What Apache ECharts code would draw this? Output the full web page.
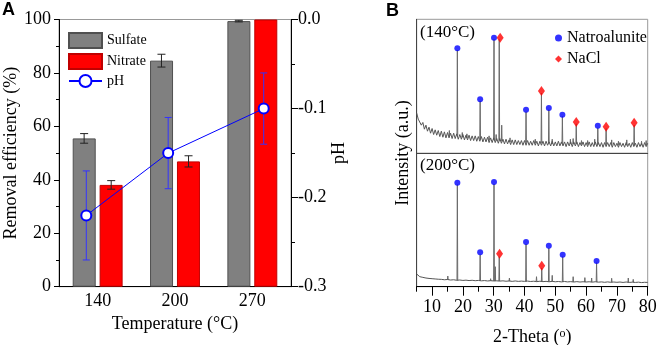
<!DOCTYPE html>
<html>
<head>
<meta charset="utf-8">
<script src="https://cdn.jsdelivr.net/npm/echarts@6/dist/echarts.min.js"></script>
<style>
html,body{margin:0;padding:0;background:#fff}
#chart{width:657px;height:345px}
</style>
</head>
<body>
<div id="chart"></div>
<script>
// panel A
var temps = ['140', '200', '270']
var sulfate = [55.5, 84.6, 99.4]
var sulfateErr = [1.8, 2.4, 0.3]
var nitrate = [38.1, 46.9, 100]
var nitrateErr = [1.6, 2.1, 0]
var phTemp = [140, 200, 270]
var ph = [-0.22, -0.15, -0.10]
var phErr = [0.05, 0.04, 0.04]
var effTicks = [0, 20, 40, 60, 80, 100]
var phTicks = [-0.3, -0.2, -0.1, 0.0]

// panel B, scan from 5 deg in 0.5 deg steps (140 C) and 1 deg steps (200 C)
var thetaMajor = [10, 20, 30, 40, 50, 60, 70, 80]
var thetaMinor = [5, 15, 25, 35, 45, 55, 65, 75]
var base140 = [30,25.5,25.5,21,23,18,21,16.5,19.5,15,18.5,14,17.5,13.5,17,12.5,16.5,12,16,11.5,
  15.5,11.5,15,11,15,11,14.5,10.5,14,10.5,14,10,13.5,10,13.5,9.5,13,9.5,13,9,
  12.5,9,12.5,8.5,12,8.5,12,8,11.5,8,11.5,8,11,7.5,11,7.5,10.5,7,10.5,7,
  10,6.5,10,6.5,10,6.5,9.5,6.5,9.5,6,9.5,6,9.5,6,9,6,9.5,6,9,5.5,
  9,6,9,5.5,9,6,8.5,5.5,9,5.5,8.5,5.5,9,5.5,8.5,5.5,8.5,5,8.5,5.5,
  8.5,5,8.5,5.5,8.5,5,8,5.5,8.5,5,8,5,8.5,5,8,5,8.5,5,8,5,
  8,4.5,8,5,8,5,8,4.5,8,5,7.5,4.5,8,5,7.5,4.5,8,5,7.5,4.5,
  8,5,7.5,4.5,8,5,7.5,4.5,8,5,7.5]
var base200 = [9.5,7.5,7,6.5,6.2,6,5.8,5.6,5.5,5.2,5.4,5,5.2,4.8,5,4.7,4.9,4.6,4.8,4.5,
  4.7,4.4,4.6,4.3,4.5,4.3,4.4,4.2,4.4,4.1,4.3,4,4.3,4,4.2,4,4.2,3.9,4.1,3.8,
  4.1,3.8,4,3.7,4,3.7,3.9,3.6,3.9,3.6,3.8,3.5,3.8,3.5,3.7,3.5,3.7,3.4,3.7,3.4,
  3.6,3.3,3.6,3.3,3.5,3.3,3.5,3.2,3.5,3.2,3.4,3.2,3.4,3.1,3.3,3.2]
// peaks: [2theta, foot, top]
var peaks140 = [[15.6,13,17],[18.2,13,77],[19.8,12,15.5],[21.3,11.5,14.5],[25.6,10.5,39],[28.5,10,13],
  [30.1,10,85],[30.8,9.5,14],[31.8,9.5,85],[32.6,9,21],[35.3,8.5,11.5],[40.5,8,31],[43.5,7.5,10.5],
  [45.5,7.5,45],[47.9,7.5,32.5],[49.0,7,10.5],[52.3,7,27.5],[54.9,7,10.5],[55.8,7,11],[56.8,7,22],
  [58.5,6.5,9.5],[60.5,6.5,9.5],[62.8,6.5,10.5],[63.8,6.5,19],[66.5,6.5,18.5],[68.3,6.5,10],
  [70.5,6,9],[73.2,6,10],[75.6,6,21],[78,6,9],[79.5,6,9.5]]
var peaks200 = [[15.1,5.2,8],[18.2,4.8,76.5],[25.6,4.5,24],[29.0,4.4,6],[30.1,4.3,77],[30.5,4.3,15],
  [31.8,4.3,22.5],[35.1,4.2,6.5],[40.5,4,32],[43.9,3.9,7.5],[45.6,3.9,14],[47.9,3.8,29],[49.0,3.8,8.5],
  [52.4,3.7,22.5],[55.8,3.6,7.5],[59.6,3.5,6.8],[61.8,3.5,6.5],[63.4,3.5,18],[68.3,3.4,6.3],
  [73.7,3.3,6.5],[75.3,3.3,5.5]]
var natro140 = [[18.2,78.4],[25.6,40.3],[30.1,86.3],[40.5,32.5],[47.9,33.8],[52.3,28.8],[63.8,20.6]]
var nacl140 = [[32.1,86.3],[45.5,46.5],[56.8,23.4],[66.5,19.9],[75.6,22.8]]
var natro200 = [[18.2,78],[25.6,25.8],[30.1,78.5],[40.5,33.5],[47.9,30.7],[52.4,24],[63.4,19.3]]
var nacl200 = [[31.9,24.7],[45.6,15.7]]

var serif = '"Liberation Serif", "Times New Roman", serif'
var txt = {color: '#000', fontFamily: serif, fontSize: 18}

function scan(vals, start, step){
	return vals.map(function(v, i){ return [start + i*step, v] })
}
function errBars(offset, color, cap){
	return function(params, api){
		var x = api.value(0), v = api.value(1), e = api.value(2)
		if(!e) return
		var hi = api.coord([x, v + e]), lo = api.coord([x, v - e])
		var cx = hi[0] + offset(api)
		var st = {stroke: color, lineWidth: 1}
		return {type: 'group', children: [
			{type: 'line', z2: 10, shape: {x1: cx, y1: hi[1], x2: cx, y2: lo[1]}, style: st},
			{type: 'line', z2: 10, shape: {x1: cx - cap, y1: hi[1], x2: cx + cap, y2: hi[1]}, style: st},
			{type: 'line', z2: 10, shape: {x1: cx - cap, y1: lo[1], x2: cx + cap, y2: lo[1]}, style: st}
		]}
	}
}
function peakRender(params, api){
	var t = api.value(0), f = api.value(1), top = api.value(2)
	return {type: 'polyline', shape: {points: [api.coord([t - 0.12, f]), api.coord([t, top]), api.coord([t + 0.12, f])]},
		style: {stroke: '#6a6a6a', fill: 'none', lineWidth: 1}}
}

var myChart = echarts.init(document.getElementById('chart'))
var option = {
	animation: false,
	backgroundColor: '#fff',
	grid: [
		{left: 59, right: 366, top: 19.5, bottom: 58.3, show: true, borderColor: '#999', borderWidth: 1, outerBoundsMode: 'none'},
		{left: 416.7, right: 9.3, top: 19.3, height: 134, show: true, borderColor: '#999', borderWidth: 1, outerBoundsMode: 'none'},
		{left: 416.7, right: 9.3, top: 153.3, bottom: 58.3, show: true, borderColor: '#999', borderWidth: 1, outerBoundsMode: 'none'}
	],
	legend: [{
		orient: 'vertical', left: 63, top: 27, itemWidth: 33, itemHeight: 15, itemGap: 4,
		textStyle: {color: '#000', fontFamily: serif, fontSize: 14},
		data: [{name: 'Sulfate', icon: 'rect'}, {name: 'Nitrate', icon: 'rect'}, 'pH']
	}, {
		orient: 'vertical', left: 550, top: 25, itemWidth: 7, itemHeight: 7, itemGap: 5,
		textStyle: {color: '#000', fontFamily: serif, fontSize: 16},
		data: [{name: 'Natroalunite', icon: 'circle'}, {name: 'NaCl', icon: 'diamond'}]
	}],
	graphic: [
		{type: 'text', left: 2, top: 1, style: {text: 'A', font: 'bold 18px "Liberation Sans"', fill: '#000'}},
		{type: 'text', left: 386, top: 2, style: {text: 'B', font: 'bold 18px "Liberation Sans"', fill: '#000'}},
		{type: 'text', left: 420, top: 24, style: {text: '(140°C)', font: '17px ' + serif, fill: '#000'}},
		{type: 'text', left: 420, top: 157, style: {text: '(200°C)', font: '17px ' + serif, fill: '#000'}},
		{type: 'text', x: 403, y: 153, rotation: Math.PI/2,
			style: {text: 'Intensity (a.u.)', font: '18px ' + serif, fill: '#000', align: 'center', verticalAlign: 'middle'}}
	],
	xAxis: [{
		type: 'category', gridIndex: 0, data: temps,
		axisLine: {lineStyle: {color: '#000'}},
		axisTick: {alignWithLabel: true, length: 7, lineStyle: {color: '#000'}},
		axisLabel: Object.assign({margin: 6}, txt),
		name: 'Temperature (°C)', nameLocation: 'middle', nameGap: 29, nameMoveOverlap: false, nameTextStyle: txt
	}, {
		type: 'value', gridIndex: 0, min: 120, max: 290, show: false
	}, {
		type: 'value', gridIndex: 1, min: 5, max: 80,
		axisLine: {lineStyle: {color: '#444'}}, axisTick: {show: false}, axisLabel: {show: false}, splitLine: {show: false}
	}, {
		type: 'value', gridIndex: 2, min: 5, max: 80, position: 'bottom',
		axisLine: {onZero: false, lineStyle: {color: '#000'}},
		axisTick: {length: 9, customValues: thetaMajor, lineStyle: {color: '#000'}},
		axisLabel: Object.assign({margin: 12, customValues: thetaMajor}, txt),
		splitLine: {show: false},
		name: '2-Theta ({s|o})', nameLocation: 'middle', nameGap: 41, nameMoveOverlap: false,
		nameTextStyle: Object.assign({rich: {s: {fontFamily: serif, fontSize: 12, color: '#000', verticalAlign: 'top', padding: [0, 0, 8, 0]}}}, txt)
	}, {
		type: 'value', gridIndex: 2, min: 5, max: 80, position: 'bottom', offset: 0,
		axisLine: {show: false},
		axisTick: {show: true, length: 5, customValues: thetaMinor, lineStyle: {color: '#000'}},
		axisLabel: {show: false}, splitLine: {show: false}
	}],
	yAxis: [{
		type: 'value', gridIndex: 0, min: effTicks[0], max: effTicks[effTicks.length-1], interval: 20,
		axisLine: {show: true, lineStyle: {color: '#000'}},
		axisTick: {show: true, length: 5, lineStyle: {color: '#000'}},
		minorTick: {show: true, splitNumber: 2, length: 3, lineStyle: {color: '#000'}},
		axisLabel: Object.assign({margin: 8}, txt),
		splitLine: {show: false},
		name: 'Removal efficiency (%)', nameLocation: 'middle', nameGap: 35, nameTextStyle: txt
	}, {
		type: 'value', gridIndex: 0, position: 'right', min: phTicks[0], max: phTicks[phTicks.length-1], interval: 0.1,
		axisLine: {show: true, lineStyle: {color: '#000'}},
		axisTick: {show: true, length: 7, lineStyle: {color: '#000'}},
		minorTick: {show: true, splitNumber: 2, length: 4, lineStyle: {color: '#000'}},
		axisLabel: Object.assign({margin: 7, formatter: function(v){ return v.toFixed(1) }}, txt),
		splitLine: {show: false},
		name: 'pH', nameLocation: 'middle', nameGap: 32, nameTextStyle: txt
	}, {
		type: 'value', gridIndex: 1, min: 0, max: 100,
		axisLine: {show: true, lineStyle: {color: '#444'}}, axisTick: {show: false}, axisLabel: {show: false}, splitLine: {show: false}
	}, {
		type: 'value', gridIndex: 2, min: 0, max: 100,
		axisLine: {show: true, lineStyle: {color: '#444'}}, axisTick: {show: false}, axisLabel: {show: false}, splitLine: {show: false}
	}],
	series: [{
		name: 'Sulfate', type: 'bar', xAxisIndex: 0, yAxisIndex: 0, data: sulfate,
		barWidth: 23, barGap: '17%',
		itemStyle: {color: '#808080', borderColor: '#505050', borderWidth: 1}
	}, {
		name: 'Nitrate', type: 'bar', xAxisIndex: 0, yAxisIndex: 0, data: nitrate,
		barWidth: 23,
		itemStyle: {color: '#ff0000', borderColor: '#c00000', borderWidth: 1}
	}, {
		type: 'custom', xAxisIndex: 0, yAxisIndex: 0, z: 5,
		data: sulfate.map(function(v, i){ return [i, v, sulfateErr[i]] }),
		renderItem: errBars(function(api){ return -api.size([1, 0])[0] * 0.175 }, '#222', 4)
	}, {
		type: 'custom', xAxisIndex: 0, yAxisIndex: 0, z: 5,
		data: nitrate.map(function(v, i){ return [i, v, nitrateErr[i]] }),
		renderItem: errBars(function(api){ return api.size([1, 0])[0] * 0.175 }, '#222', 4)
	}, {
		type: 'custom', xAxisIndex: 1, yAxisIndex: 1, z: 5,
		dimensions: ['t', 'v', 'e'], encode: {x: 0, y: 1},
		data: ph.map(function(v, i){ return [phTemp[i], v, phErr[i]] }),
		renderItem: errBars(function(){ return 0 }, '#3333ff', 3.5)
	}, {
		name: 'pH', type: 'line', xAxisIndex: 1, yAxisIndex: 1, z: 6,
		data: ph.map(function(v, i){ return [phTemp[i], v] }),
		symbol: 'circle', symbolSize: 10,
		lineStyle: {color: '#0000ff', width: 1},
		itemStyle: {color: '#fff', borderColor: '#0000ff', borderWidth: 2}
	}, {
		type: 'line', xAxisIndex: 2, yAxisIndex: 2, data: scan(base140, 5, 0.5),
		showSymbol: false, lineStyle: {color: '#555', width: 1}
	}, {
		type: 'custom', xAxisIndex: 2, yAxisIndex: 2, data: peaks140, renderItem: peakRender
	}, {
		type: 'line', xAxisIndex: 3, yAxisIndex: 3, data: scan(base200, 5, 1),
		showSymbol: false, lineStyle: {color: '#555', width: 1}
	}, {
		type: 'custom', xAxisIndex: 3, yAxisIndex: 3, data: peaks200, renderItem: peakRender
	}, {
		name: 'Natroalunite', type: 'scatter', xAxisIndex: 2, yAxisIndex: 2, data: natro140,
		symbol: 'circle', symbolSize: 6, itemStyle: {color: '#0000ff'}
	}, {
		name: 'NaCl', type: 'scatter', xAxisIndex: 2, yAxisIndex: 2, data: nacl140,
		symbol: 'diamond', symbolSize: [7, 10], itemStyle: {color: '#ff0000'}
	}, {
		name: 'Natroalunite', type: 'scatter', xAxisIndex: 3, yAxisIndex: 3, data: natro200,
		symbol: 'circle', symbolSize: 6, itemStyle: {color: '#0000ff'}
	}, {
		name: 'NaCl', type: 'scatter', xAxisIndex: 3, yAxisIndex: 3, data: nacl200,
		symbol: 'diamond', symbolSize: [7, 10], itemStyle: {color: '#ff0000'}
	}]
}
myChart.setOption(option)
</script>
</body>
</html>
